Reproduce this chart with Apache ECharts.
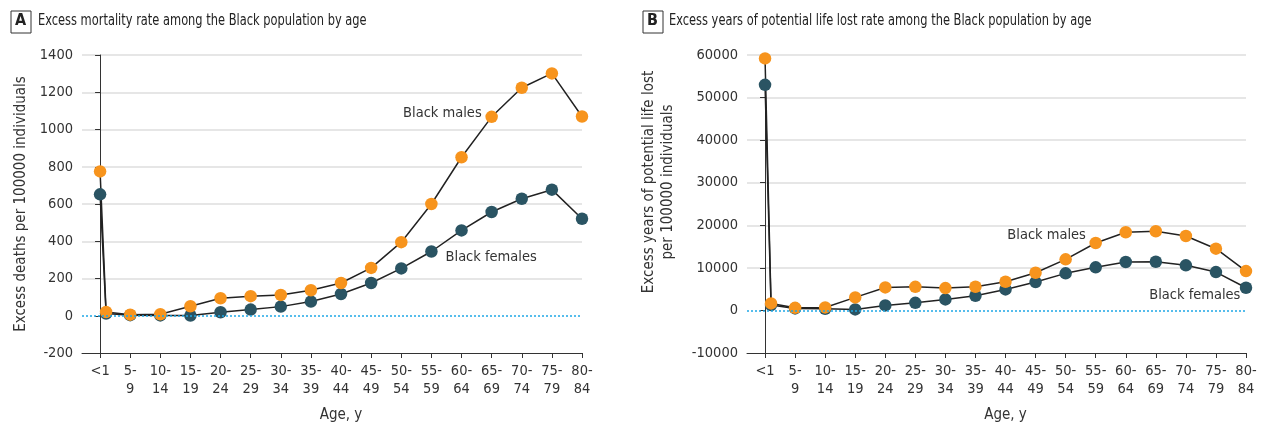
<!DOCTYPE html>
<html>
<head>
<meta charset="utf-8">
<script src="https://cdn.jsdelivr.net/npm/echarts@6/dist/echarts.min.js"></script>
<style>
html,body{margin:0;padding:0;background:#fff;}
#chart{width:1265px;height:423px;}
</style>
</head>
<body>
<div id="chart"></div>
<script>
// Age groups and their positions on the age axis (1-4 y group sits just after <1)
const ageGroups = ['<1','1-4','5-9','10-14','15-19','20-24','25-29','30-34','35-39','40-44','45-49','50-54','55-59','60-64','65-69','70-74','75-79','80-84'];
const agePos = [0,0.2,1,2,3,4,5,6,7,8,9,10,11,12,13,14,15,16];
// tick labels on the age axis
const tickPos = [0,1,2,3,4,5,6,7,8,9,10,11,12,13,14,15,16];
const tickLabels = ['<1','5-\n9','10-\n14','15-\n19','20-\n24','25-\n29','30-\n34','35-\n39','40-\n44','45-\n49','50-\n54','55-\n59','60-\n64','65-\n69','70-\n74','75-\n79','80-\n84'];

// Panel A: excess deaths per 100000
const mortMales   = [775,20,6,8,51,94,105,112,137,176,257,395,600,851,1068,1224,1301,1070];
const mortFemales = [652,12,3,2,1,19,33,49,76,117,176,254,345,458,557,628,677,521];
// Panel B: excess YPLL per 100000
const yplMales   = [59200,1650,610,700,3060,5400,5550,5250,5560,6730,8850,12000,15840,18360,18600,17490,14500,9250];
const yplFemales = [53000,1250,480,400,235,1180,1790,2590,3440,4940,6660,8710,10120,11370,11440,10590,9015,5320];

const titleA = 'Excess mortality rate among the Black population by age';
const titleB = 'Excess years of potential life lost rate among the Black population by age';

const FONT = '"DejaVu Sans Condensed", "DejaVu Sans", sans-serif';
const TFONT = '"DejaVu Sans Condensed", "DejaVu Sans", sans-serif';
const TXT = '#333';
const ORANGE = '#F7941D';
const TEAL = '#2A5463';
const LINE = '#222';

function pairs(vals){ return vals.map((v,i)=>[agePos[i], v]); }

function xAxis(gi){
  return {
    type:'value', gridIndex:gi, min:-0.6, max:16,
    name:'Age, y', nameLocation:'middle', nameGap:55,
    nameTextStyle:{fontFamily:FONT, fontSize:15, color:TXT, padding:[0,0,0,18]},
    axisLine:{show:true, onZero:false, lineStyle:{color:'#333', width:1}},
    axisTick:{show:true, customValues:tickPos, length:5, lineStyle:{color:'#333'}},
    axisLabel:{customValues:tickPos, margin:9, fontFamily:FONT, fontSize:14.5, color:TXT, lineHeight:18,
      formatter:(v)=>{ const i = tickPos.indexOf(Math.round(v)); return i>=0 ? tickLabels[i] : ''; }},
    splitLine:{show:false}
  };
}
function yAxis(gi, min, max, interval, name, gap, pad){
  const n = Math.round((max-min)/interval)+1;
  const cols = [];
  for(let i=0;i<n;i++){ const v=min+i*interval; cols.push((v===0||v===min)?'rgba(0,0,0,0)':'#dedede'); }
  return {
    type:'value', gridIndex:gi, min, max, interval,
    name, nameLocation:'middle', nameGap:gap,
    nameTextStyle:{fontFamily:FONT, fontSize:15, color:TXT, lineHeight:19, padding:pad},
    axisLine:{show:true, lineStyle:{color:'#333', width:1}},
    axisTick:{show:true, length:5, lineStyle:{color:'#333'}},
    axisLabel:{margin:9, fontFamily:FONT, fontSize:14.5, color:TXT, formatter:(v)=>String(v)},
    splitLine:{show:true, lineStyle:{color:cols, width:1.5}}
  };
}
function annot(x, y, text, pos){
  return {coord:[x,y], symbol:'circle', symbolSize:0,
    label:{show:true, formatter:text, position:pos, distance:0, fontFamily:FONT, fontSize:14.5, color:TXT}};
}
function series(gi, vals, color, marks, zero){
  const s = {
    type:'line', xAxisIndex:gi, yAxisIndex:gi, data:pairs(vals),
    symbol:'circle', symbolSize:12.5, showSymbol:true,
    itemStyle:{color}, lineStyle:{color:LINE, width:1.5},
    emphasis:{disabled:true}, animation:false,
    markPoint:{silent:true, animation:false, data:marks}
  };
  if(zero){
    s.markLine = {silent:true, symbol:'none', animation:false, label:{show:false},
      emphasis:{disabled:true},
      lineStyle:{color:'#1FA8E6', type:[2,2], width:1.5, opacity:1}, data:[{yAxis:0}]};
  }
  return s;
}

const chart = echarts.init(document.getElementById('chart'), null, {renderer:'canvas'});
chart.setOption({
  backgroundColor:'#fff',
  animation:false,
  grid:[
    {left:82, right:683, top:55, bottom:70, containLabel:false, outerBoundsMode:'none'},
    {left:747, right:19, top:55, bottom:70, containLabel:false, outerBoundsMode:'none'}
  ],
  xAxis:[xAxis(0), xAxis(1)],
  yAxis:[
    yAxis(0,-200,1400,200,'Excess deaths per 100000 individuals',51,[0,0,0,0]),
    yAxis(1,-10000,60000,10000,'Excess years of potential life lost\nper 100000 individuals',69,[0,0,0,44])
  ],
  series:[
    series(0, mortFemales, TEAL, [annot(11.47,316,'Black females','right')], true),
    series(0, mortMales, ORANGE, [annot(12.67,1088,'Black males','left')], false),
    series(1, yplFemales, TEAL, [annot(12.78,3600,'Black females','right')], true),
    series(1, yplMales, ORANGE, [annot(8.06,17560,'Black males','right')], false)
  ],
  graphic:[
    {type:'rect', x:11, y:11, shape:{width:20, height:22}, style:{fill:'#fff', stroke:'#333', lineWidth:1}},
    {type:'text', x:15, y:13, style:{text:'A', fontFamily:TFONT, fontWeight:'bold', fontSize:16, fill:'#222'}},
    {type:'text', x:38, y:12, scaleX:0.77, style:{text:titleA, fontFamily:TFONT, fontSize:16.5, fill:'#222'}},
    {type:'rect', x:643, y:11, shape:{width:20, height:22}, style:{fill:'#fff', stroke:'#333', lineWidth:1}},
    {type:'text', x:647, y:13, style:{text:'B', fontFamily:TFONT, fontWeight:'bold', fontSize:16, fill:'#222'}},
    {type:'text', x:669, y:12, scaleX:0.77, style:{text:titleB, fontFamily:TFONT, fontSize:16.5, fill:'#222'}}
  ]
});
</script>
</body>
</html>
